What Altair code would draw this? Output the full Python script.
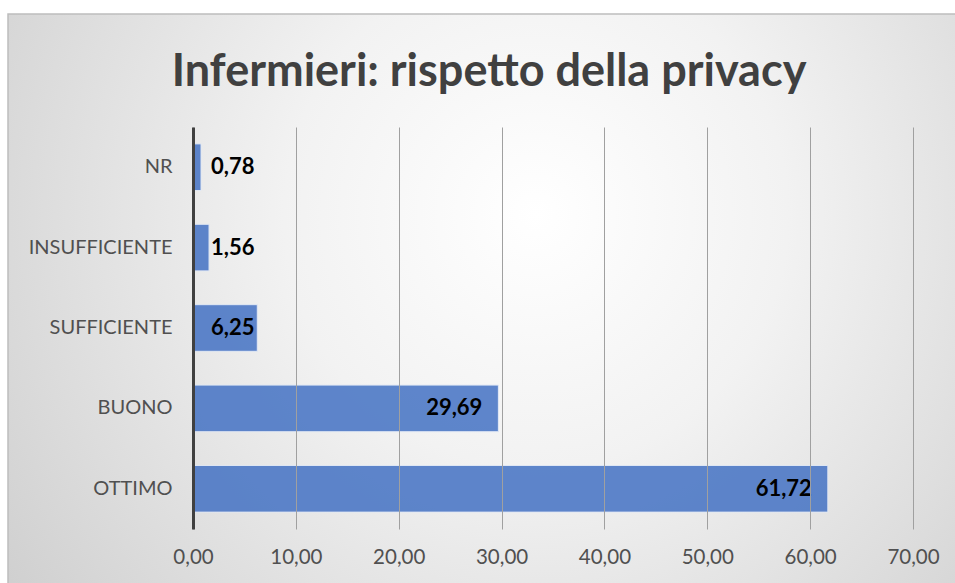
import altair as alt
import pandas as pd

categories = ["NR", "INSUFFICIENTE", "SUFFICIENTE", "BUONO", "OTTIMO"]
values = [0.78, 1.56, 6.25, 29.69, 61.72]
labels = ["0,78", "1,56", "6,25", "29,69", "61,72"]
inside = [False, False, False, True, True]
x_ticks = [0, 10, 20, 30, 40, 50, 60, 70]
title_text = "Infermieri: rispetto della privacy"

df = pd.DataFrame({"cat": categories, "val": values, "lab": labels, "inside": inside})

W, H = 720, 402
FONT = "Lato"

bg = alt.Chart(pd.DataFrame({"a": [0]})).mark_rect(
    fill=alt.RadialGradient(
        gradient="radial",
        stops=[alt.GradientStop(color="#ffffff", offset=0),
               alt.GradientStop(color="#f2f2f2", offset=0.35),
               alt.GradientStop(color="#c9c9c9", offset=1)],
        x1=0.55, y1=0.4, r1=0, x2=0.55, y2=0.4, r2=0.75),
    stroke="#bdbdbd", strokeWidth=1.5,
).encode(x=alt.value(-185), x2=alt.value(775), y=alt.value(-113), y2=alt.value(480))

title = alt.Chart(pd.DataFrame({"t": [title_text]})).mark_text(
    align="center", baseline="alphabetic", fontSize=45, fontWeight="bold", color="#404040", font=FONT
).encode(x=alt.value(296), y=alt.value(-41), text="t:N")

yenc = alt.Y("cat:N", sort=categories,
             scale=alt.Scale(paddingInner=0.42, paddingOuter=0.21),
             axis=alt.Axis(title=None, domainColor="#404040", domainWidth=3, ticks=False,
                           labelPadding=21, labelFontSize=20, labelColor="#505050",
                           labelFont=FONT, zindex=2))

bars = alt.Chart(df).mark_bar(color="#4472C4", opacity=0.85, stroke="#e0e8f6", strokeWidth=1).encode(
    x=alt.X("val:Q", scale=alt.Scale(domain=[0, 70]),
            axis=alt.Axis(title=None, values=x_ticks, grid=True, gridColor="#a0a0a0", gridWidth=1,
                          domain=False, ticks=False, labelPadding=18, labelFontSize=20.5,
                          labelFlush=False,
                          labelColor="#505050", labelFont=FONT, zindex=1,
                          labelExpr="replace(format(datum.value, '.2f'), '.', ',')")),
    y=yenc,
)

lab_in = alt.Chart(df).transform_filter("datum.inside").mark_text(
    align="right", baseline="middle", dx=-16, fontSize=22, fontWeight="bold", font=FONT, color="#000000"
).encode(x="val:Q", y=alt.Y("cat:N", sort=categories), text="lab:N")

lab_out = alt.Chart(df).transform_filter("!datum.inside").mark_text(
    align="left", baseline="middle", fontSize=22, fontWeight="bold", font=FONT, color="#000000"
).encode(x=alt.value(18), y=alt.Y("cat:N", sort=categories), text="lab:N")

chart = alt.layer(bg, title, bars, lab_in, lab_out).properties(
    width=W, height=H,
    padding={"left": 193, "top": 127, "right": 42, "bottom": 54},
    autosize=alt.AutoSizeParams(type="none"),
).configure_view(stroke=None).configure(background="#ffffff")

chart.save("out.html", embed_options={"renderer": "svg", "actions": False})
